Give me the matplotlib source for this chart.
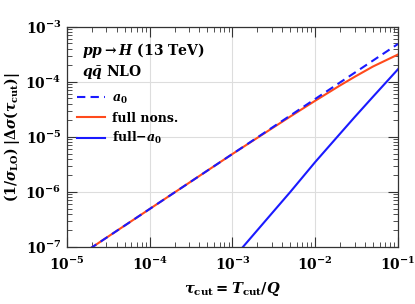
import matplotlib
matplotlib.use("Agg")
import matplotlib.pyplot as plt
from matplotlib.ticker import LogLocator, NullFormatter

# values
tau = [1e-5, 3e-5, 1e-4, 3e-4, 1e-3, 3e-3, 5e-3, 1e-2, 2e-2, 3e-2, 5e-2, 1e-1]
a0 = [4.9e-8, 1.47e-7, 4.9e-7, 1.47e-6, 4.9e-6, 1.47e-5, 2.45e-5, 4.9e-5, 9.8e-5, 1.47e-4, 2.45e-4, 4.9e-4]
full_nons = [4.9e-8, 1.47e-7, 4.9e-7, 1.47e-6, 4.9e-6, 1.43e-5, 2.35e-5, 4.55e-5, 8.65e-5, 1.24e-4, 1.91e-4, 3.15e-4]
full_minus_a0 = [1.6e-11, 1.2e-10, 1.1e-9, 8.5e-9, 6.0e-8, 4.1e-7, 1.0e-6, 3.5e-6, 1.15e-5, 2.3e-5, 5.4e-5, 1.7e-4]

plt.rcParams.update({
    "font.family": "DejaVu Serif",
    "font.weight": "bold",
    "mathtext.fontset": "custom",
    "mathtext.rm": "DejaVu Serif:bold",
    "mathtext.bf": "DejaVu Serif:bold",
    "mathtext.it": "DejaVu Serif:bold:italic",
    "mathtext.cal": "DejaVu Serif:bold:italic",
})

BLUE = "#1a1aff"
RED = "#ff4a1c"

fig = plt.figure(figsize=(4.15, 3.04), dpi=100)
ax = fig.add_axes([0.161, 0.1875, 0.798, 0.724])

ax.plot(tau, full_nons, color=RED, lw=1.5, label="full nons.")
ax.plot(tau, a0, color=BLUE, lw=1.5, dashes=(4, 2.5), label=r"$a_0$")
ax.plot(tau, full_minus_a0, color=BLUE, lw=1.5, label=r"full$-a_0$")

ax.set_xscale("log")
ax.set_yscale("log")
ax.set_xlim(1e-5, 1e-1)
ax.set_ylim(1e-7, 1e-3)

ax.xaxis.set_major_locator(LogLocator(base=10, numticks=10))
ax.yaxis.set_major_locator(LogLocator(base=10, numticks=10))
ax.xaxis.set_minor_locator(LogLocator(base=10, subs=range(2, 10), numticks=10))
ax.yaxis.set_minor_locator(LogLocator(base=10, subs=range(2, 10), numticks=10))
ax.xaxis.set_minor_formatter(NullFormatter())
ax.yaxis.set_minor_formatter(NullFormatter())
ax.tick_params(which="both", direction="in", top=True, right=True, labelsize=10, color="#333333")
ax.tick_params(which="major", length=7, width=0.8, pad=6)
ax.tick_params(axis="y", which="major", pad=4)
ax.tick_params(which="minor", length=3.5, width=0.6)
ax.grid(which="major", color="#dddddd", lw=0.8)
for s in ax.spines.values():
    s.set_linewidth(0.9)
    s.set_color("#333333")

ax.set_xlabel(r"$\tau_{\mathrm{cut}} = \mathcal{T}_{\mathrm{cut}}/Q$", fontsize=10.5, labelpad=5)
ax.set_ylabel(r"$(1/\sigma_{\mathrm{LO}})\;|\Delta\sigma(\tau_{\mathrm{cut}})|$", fontsize=10)
ax.yaxis.set_label_coords(-0.135, 0.5)

ax.text(0.045, 0.935, r"$pp \to H$ (13 TeV)", transform=ax.transAxes, fontsize=10, va="top")
ax.text(0.045, 0.835, r"$q\bar{q}$ NLO", transform=ax.transAxes, fontsize=10, va="top")

h, l = ax.get_legend_handles_labels()
order = [1, 0, 2]
ax.legend([h[i] for i in order], [l[i] for i in order], loc="upper left",
          bbox_to_anchor=(0.005, 0.745), frameon=False, fontsize=9,
          handlelength=2.2, handletextpad=0.6, labelspacing=0.45, borderaxespad=0.3)

fig.savefig("out.png", dpi=100)
